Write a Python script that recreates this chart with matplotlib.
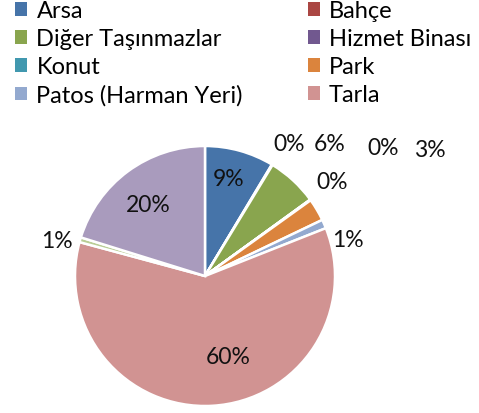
import matplotlib
matplotlib.use("Agg")
import matplotlib.pyplot as plt
from matplotlib.patches import Patch

categories = ["Arsa", "Bahçe", "Diğer Taşınmazlar", "Hizmet Binası", "Konut",
              "Park", "Patos (Harman Yeri)", "Tarla", "Seri 9", "Seri 10"]
values = [8.6, 0.1, 6.3, 0.05, 0.05, 2.8, 1.1, 60.2, 0.6, 20.2]
colors = ["#4674A9", "#AA4643", "#89A54E", "#71588F", "#4198AF",
          "#DB843D", "#93A9CF", "#D19392", "#B9CD96", "#A99BBD"]
legend_count = 8

plt.rcParams['font.family'] = ['Lato', 'DejaVu Sans']

W, H = 479, 414
fig = plt.figure(figsize=(W / 100, H / 100), dpi=100)
cx, cy, r = 205, 277, 130
ax = fig.add_axes([(cx - r) / W, (H - cy - r) / H, 2 * r / W, 2 * r / H])

wedges, _ = ax.pie(values, colors=colors, startangle=90, counterclock=False,
                   radius=1, wedgeprops=dict(edgecolor='white', linewidth=1.8))
ax.set_xlim(-1, 1)
ax.set_ylim(-1, 1)
ax.set_aspect('equal')
ax.axis('off')

total = sum(values)
pcts = [f"{round(v / total * 100):.0f}%" for v in values]
# label positions (in pie-radius units)
label_pos = [(0.18, 0.75), (0.65, 1.02), (0.96, 1.02), (1.37, 0.99), (0.98, 0.73),
             (1.73, 0.97), (1.10, 0.28), (0.18, -0.62), (-1.14, 0.27), (-0.44, 0.55)]
for (x, y), t in zip(label_pos, pcts):
    ax.text(x, y, t, ha='center', va='center', fontsize=16.5, color='#111111', clip_on=False)

# legend in row-major order (2 columns)
handles = [Patch(facecolor=colors[i], edgecolor='none') for i in range(legend_count)]
labels = categories[:legend_count]
order = list(range(0, legend_count, 2)) + list(range(1, legend_count, 2))
leg = fig.legend([handles[i] for i in order], [labels[i] for i in order],
                 ncol=2, loc='upper left', bbox_to_anchor=(0.012, 1.02),
                 frameon=False, fontsize=17, handlelength=0.5, handleheight=0.5,
                 handletextpad=0.4, columnspacing=2.75, labelspacing=0.3,
                 borderaxespad=0)

fig.savefig("out.png", dpi=100)
